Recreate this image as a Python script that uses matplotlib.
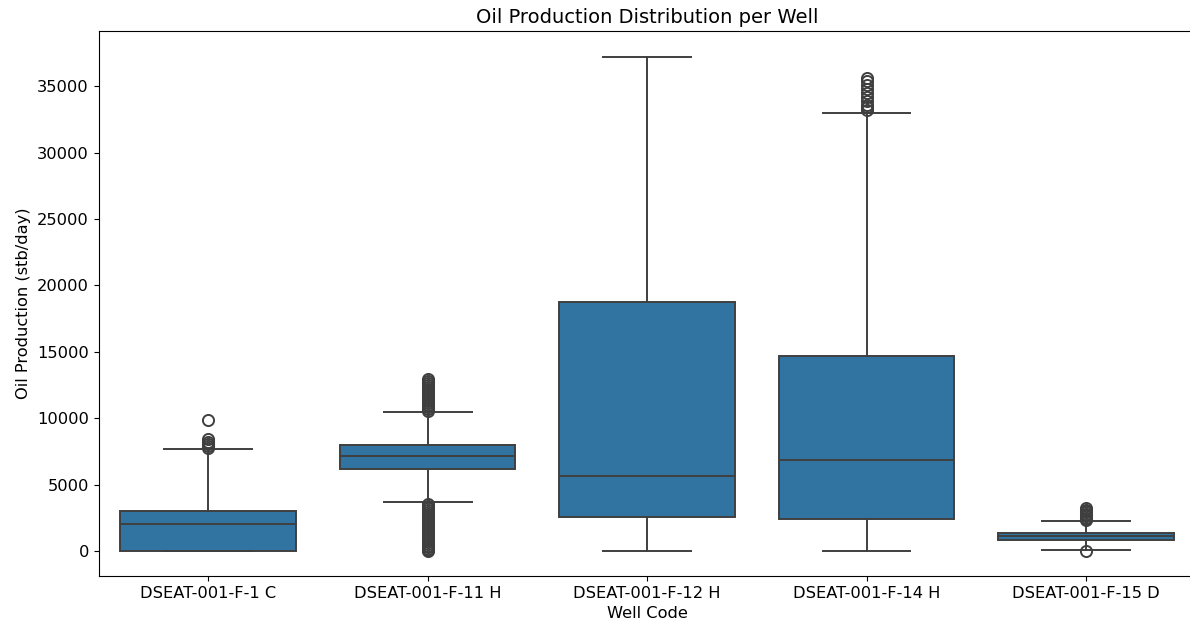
import matplotlib.pyplot as plt
import seaborn as sns

# Well codes and box statistics
wells = ["DSEAT-001-F-1 C", "DSEAT-001-F-11 H", "DSEAT-001-F-12 H",
         "DSEAT-001-F-14 H", "DSEAT-001-F-15 D"]
whis_lo = [0, 3700, 0, 0, 50]
q1 = [0, 6210, 2570, 2400, 830]
median = [2030, 7140, 5660, 6830, 1120]
q3 = [3000, 7960, 18780, 14720, 1375]
whis_hi = [7660, 10460, 37180, 33000, 2250]

# outlier points (estimated)
fliers_f1 = [7800, 7900, 8050, 8250, 8450, 9840]
fliers_f11 = [0, 80, 180, 300, 420, 560, 700, 850, 1000, 1150, 1300, 1450,
              1600, 1750, 1900, 2050, 2200, 2350, 2500, 2650, 2800, 2950,
              3100, 3250, 3400, 3550,
              10550, 10700, 10850, 11000, 11150, 11300, 11450, 11600, 11750,
              11900, 12050, 12200, 12350, 12500, 12650, 12800, 12920]
fliers_f12 = []
fliers_f14 = [33200, 33400, 33600, 33900, 34200, 34500, 34800, 35100, 35400, 35600]
fliers_f15 = [0, 2320, 2420, 2520, 2620, 2720, 2820, 2920, 3020, 3120, 3230]
fliers = [fliers_f1, fliers_f11, fliers_f12, fliers_f14, fliers_f15]

BOX_COLOR = "#3274a1"
LINE_COLOR = "#3f3f3f"

fig = plt.figure(figsize=(11.9, 6.32), dpi=100)
ax = fig.add_axes([0.0828, 0.0886, 0.922, 0.862])

stats = []
for i, w in enumerate(wells):
    stats.append({
        "label": w,
        "whislo": whis_lo[i],
        "q1": q1[i],
        "med": median[i],
        "q3": q3[i],
        "whishi": whis_hi[i],
        "fliers": fliers[i],
    })

ax.bxp(
    stats,
    positions=range(len(wells)),
    widths=0.8,
    patch_artist=True,
    boxprops=dict(facecolor=BOX_COLOR, edgecolor=LINE_COLOR, linewidth=1.4),
    medianprops=dict(color=LINE_COLOR, linewidth=1.4),
    whiskerprops=dict(color=LINE_COLOR, linewidth=1.4),
    capprops=dict(color=LINE_COLOR, linewidth=1.4),
    capwidths=0.4,
    flierprops=dict(marker="o", markerfacecolor="none", markeredgecolor=LINE_COLOR,
                    markersize=8, markeredgewidth=1.4),
)

ax.set_xlim(-0.5, len(wells) - 0.5)
ax.set_ylim(-1870, 39130)
ax.set_xticks(range(len(wells)))
ax.set_xticklabels(wells, fontsize=11.7)
ax.tick_params(axis="y", labelsize=11.7)
ax.set_title("Oil Production Distribution per Well", fontsize=14)
ax.set_xlabel("Well Code", fontsize=11.7)
ax.set_ylabel("Oil Production (stb/day)", fontsize=11.7)

fig.savefig("out.png", dpi=100)
